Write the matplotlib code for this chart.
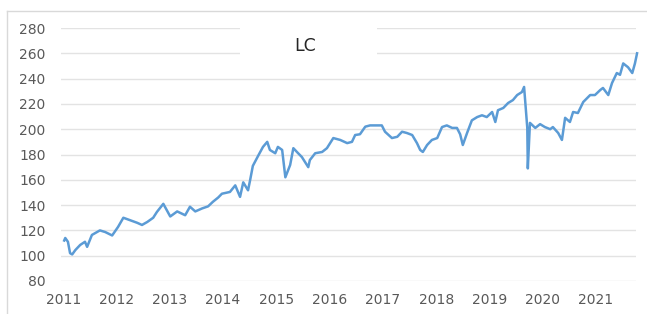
import matplotlib
matplotlib.use("Agg")
import matplotlib.pyplot as plt
from matplotlib.patches import Rectangle
from matplotlib.lines import Line2D

# Decimal-year positions and LC values
years = [2011.02, 2011.04, 2011.09, 2011.13, 2011.17, 2011.23, 2011.32, 2011.41, 2011.45,
         2011.54, 2011.69, 2011.79, 2011.92, 2012.03, 2012.13, 2012.26, 2012.39, 2012.48,
         2012.58, 2012.69, 2012.76, 2012.88, 2013.01, 2013.14, 2013.29, 2013.38, 2013.48,
         2013.61, 2013.72, 2013.81, 2013.91, 2013.98, 2014.13, 2014.23, 2014.32, 2014.38,
         2014.47, 2014.51, 2014.56, 2014.66, 2014.75, 2014.83, 2014.88, 2014.98, 2015.03,
         2015.11, 2015.17, 2015.26, 2015.32, 2015.41, 2015.48, 2015.60, 2015.63, 2015.73,
         2015.86, 2015.95, 2016.07, 2016.20, 2016.33, 2016.42, 2016.48, 2016.57, 2016.67,
         2016.76, 2016.89, 2016.98, 2017.04, 2017.17, 2017.27, 2017.36, 2017.45, 2017.55,
         2017.64, 2017.70, 2017.75, 2017.83, 2017.92, 2018.02, 2018.11, 2018.20, 2018.30,
         2018.39, 2018.45, 2018.50, 2018.58, 2018.67, 2018.77, 2018.86, 2018.95, 2019.05,
         2019.11, 2019.16, 2019.26, 2019.35, 2019.44, 2019.52, 2019.61, 2019.65, 2019.71,
         2019.72, 2019.76, 2019.86, 2019.95, 2020.04, 2020.14, 2020.19, 2020.29, 2020.36,
         2020.42, 2020.51, 2020.57, 2020.66, 2020.76, 2020.89, 2020.98, 2021.08, 2021.13,
         2021.23, 2021.30, 2021.39, 2021.45, 2021.51, 2021.60, 2021.68, 2021.73, 2021.77]
values = [112, 114, 111, 102, 101, 104.5, 108.5, 111, 107,
          116.4, 120, 118.7, 116, 122.7, 130, 128, 126, 124.3,
          126.7, 130, 134.6, 141, 131, 135, 132, 138.7, 135,
          137.4, 139, 142.6, 146, 149, 150.4, 155.6, 146.5, 158,
          151.7, 160, 171, 179, 186, 190, 183.6, 181, 186,
          183.6, 162, 171.7, 185, 181, 178, 170, 175.6, 181,
          182, 185, 193, 191.5, 189, 190, 195.4, 196, 202,
          203, 203, 203, 198, 193, 194, 198, 197, 195.4,
          189, 183.6, 182, 187.5, 191.5, 193, 201.7, 203, 201,
          201, 196, 187.5, 197, 207, 209.6, 211, 209.6, 213.6,
          205.7, 215, 216.8, 220.7, 223, 227, 229.4, 233.4, 201,
          169, 205, 201, 204, 201.7, 200, 201.7, 197, 191.5,
          209, 205.7, 213.6, 212.8, 221.5, 227, 227, 231, 232.6,
          227, 236.5, 244.4, 243, 252, 249, 244.4, 252, 260]

year_ticks = list(range(2011, 2022))
y_ticks = list(range(80, 281, 20))
title = "LC"

plt.rcParams['font.family'] = ['DejaVu Sans']

fig = plt.figure(figsize=(6.47, 3.14), dpi=100)
fig.patch.set_facecolor('white')

# faint outer border (top and left edges visible in the reference)
fig.add_artist(Line2D([7/647, 1.0], [1 - 11/314, 1 - 11/314], transform=fig.transFigure,
                      color='#D9D9D9', lw=1.0))
fig.add_artist(Line2D([7/647, 7/647], [0, 1 - 11/314], transform=fig.transFigure,
                      color='#D9D9D9', lw=1.0))

ax = fig.add_axes([61/647, 1 - 281/314, (636 - 61)/647, (281 - 28)/314])
ax.plot(years, values, color='#5B9BD5', lw=1.8, clip_on=False, zorder=3)

ax.set_xlim(2010.96, 2021.75)
ax.set_ylim(80, 280)
ax.set_yticks(y_ticks)
ax.set_xticks(year_ticks)
ax.set_xticklabels([str(y) for y in year_ticks])
ax.grid(axis='y', color='#E3E3E3', lw=1.0)
ax.set_axisbelow(True)
for s in ax.spines.values():
    s.set_visible(False)
ax.tick_params(axis='both', length=0, colors='#595959')
ax.tick_params(axis='y', labelsize=10, pad=11)
ax.tick_params(axis='x', labelsize=10, pad=9)

# white box behind title that interrupts the top gridlines
ax.add_patch(Rectangle((0.311, 0.86), 0.239, 0.16, transform=ax.transAxes,
                       facecolor='white', edgecolor='none', zorder=2, clip_on=False))
ax.text(0.424, 0.929, title, transform=ax.transAxes, ha='center', va='center',
        fontsize=12.5, color='#262626', zorder=4)

fig.savefig('out.png', dpi=100)
